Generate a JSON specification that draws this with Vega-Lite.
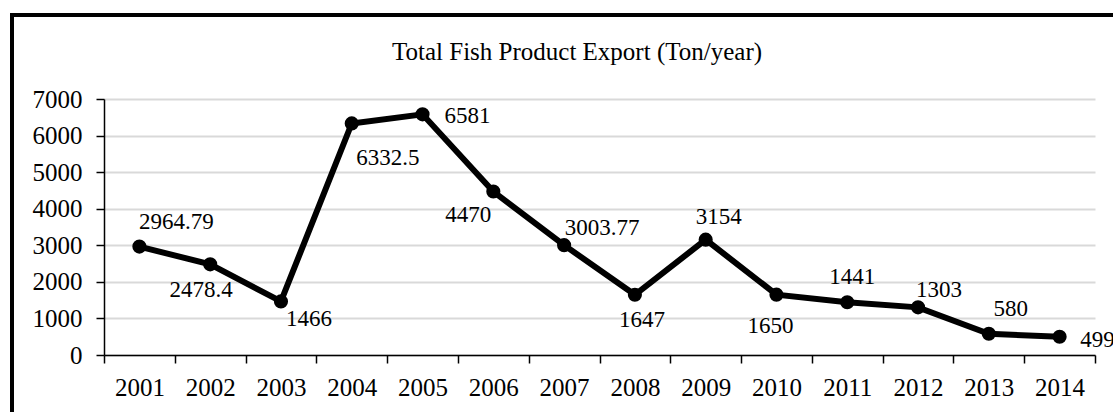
{
  "$schema": "https://vega.github.io/schema/vega-lite/v6.json",
  "autosize": {"type": "none"},
  "padding": {"left": 12, "top": 15, "right": -9, "bottom": -13},
  "width": 1110,
  "height": 410,
  "background": "white",
  "config": {
    "view": {"stroke": "#000000", "strokeWidth": 4},
    "font": "Liberation Serif",
    "text": {"font": "Liberation Serif", "fontSize": 23, "color": "#000000", "baseline": "middle", "align": "center"}
  },
  "title": {
    "text": "Total Fish Product Export (Ton/year)",
    "font": "Liberation Serif",
    "fontSize": 25,
    "fontWeight": "normal",
    "color": "#000000",
    "anchor": "middle",
    "baseline": "alphabetic",
    "offset": -70,
    "dx": 10
  },
  "data": {
    "values": [
      {"year": "2001", "tons": 2964.79},
      {"year": "2002", "tons": 2478.4},
      {"year": "2003", "tons": 1466},
      {"year": "2004", "tons": 6332.5},
      {"year": "2005", "tons": 6581},
      {"year": "2006", "tons": 4470},
      {"year": "2007", "tons": 3003.77},
      {"year": "2008", "tons": 1647},
      {"year": "2009", "tons": 3154},
      {"year": "2010", "tons": 1650},
      {"year": "2011", "tons": 1441},
      {"year": "2012", "tons": 1303},
      {"year": "2013", "tons": 580},
      {"year": "2014", "tons": 499}
    ]
  },
  "encoding": {
    "x": {
      "field": "year",
      "type": "ordinal",
      "bandPosition": 0.5,
      "scale": {"type": "band", "paddingInner": 0, "paddingOuter": 0, "range": [92, 1083]},
      "axis": {
        "title": null,
        "labelAngle": 0,
        "labelFont": "Liberation Serif",
        "labelFontSize": 25,
        "labelColor": "#000000",
        "labelPadding": 12,
        "tickBand": "extent",
        "tickSize": 8,
        "tickColor": "#000000",
        "tickWidth": 1.5,
        "domainColor": "#000000",
        "domainWidth": 1.5,
        "grid": false,
        "offset": -70
      }
    },
    "y": {
      "field": "tons",
      "type": "quantitative",
      "scale": {"domain": [0, 7000], "range": [340, 84], "nice": false},
      "axis": {
        "title": null,
        "format": "d",
        "values": [0, 1000, 2000, 3000, 4000, 5000, 6000, 7000],
        "labelFont": "Liberation Serif",
        "labelFontSize": 25,
        "labelColor": "#000000",
        "labelPadding": 14,
        "tickSize": 8,
        "tickColor": "#000000",
        "tickWidth": 1.5,
        "domainColor": "#000000",
        "domainWidth": 1.5,
        "grid": true,
        "gridColor": "#d9d9d9",
        "gridWidth": 2,
        "offset": -92
      }
    }
  },
  "layer": [
    {"mark": {"type": "line", "color": "#000000", "strokeWidth": 6}},
    {"mark": {"type": "point", "filled": true, "color": "#000000", "opacity": 1, "size": 200}},
    {"transform": [{"filter": "datum.year == '2001'"}], "mark": {"type": "text", "dx": 37, "dy": -25}, "encoding": {"text": {"field": "tons", "type": "nominal"}}},
    {"transform": [{"filter": "datum.year == '2002'"}], "mark": {"type": "text", "dx": -9, "dy": 26}, "encoding": {"text": {"field": "tons", "type": "nominal"}}},
    {"transform": [{"filter": "datum.year == '2003'"}], "mark": {"type": "text", "dx": 28, "dy": 18}, "encoding": {"text": {"field": "tons", "type": "nominal"}}},
    {"transform": [{"filter": "datum.year == '2004'"}], "mark": {"type": "text", "dx": 36, "dy": 35}, "encoding": {"text": {"field": "tons", "type": "nominal"}}},
    {"transform": [{"filter": "datum.year == '2005'"}], "mark": {"type": "text", "dx": 45, "dy": 2}, "encoding": {"text": {"field": "tons", "type": "nominal"}}},
    {"transform": [{"filter": "datum.year == '2006'"}], "mark": {"type": "text", "dx": -25, "dy": 23}, "encoding": {"text": {"field": "tons", "type": "nominal"}}},
    {"transform": [{"filter": "datum.year == '2007'"}], "mark": {"type": "text", "dx": 38, "dy": -17}, "encoding": {"text": {"field": "tons", "type": "nominal"}}},
    {"transform": [{"filter": "datum.year == '2008'"}], "mark": {"type": "text", "dx": 7, "dy": 25}, "encoding": {"text": {"field": "tons", "type": "nominal"}}},
    {"transform": [{"filter": "datum.year == '2009'"}], "mark": {"type": "text", "dx": 13, "dy": -23}, "encoding": {"text": {"field": "tons", "type": "nominal"}}},
    {"transform": [{"filter": "datum.year == '2010'"}], "mark": {"type": "text", "dx": -6, "dy": 31}, "encoding": {"text": {"field": "tons", "type": "nominal"}}},
    {"transform": [{"filter": "datum.year == '2011'"}], "mark": {"type": "text", "dx": 5, "dy": -25}, "encoding": {"text": {"field": "tons", "type": "nominal"}}},
    {"transform": [{"filter": "datum.year == '2012'"}], "mark": {"type": "text", "dx": 21, "dy": -17}, "encoding": {"text": {"field": "tons", "type": "nominal"}}},
    {"transform": [{"filter": "datum.year == '2013'"}], "mark": {"type": "text", "dx": 22, "dy": -25}, "encoding": {"text": {"field": "tons", "type": "nominal"}}},
    {"transform": [{"filter": "datum.year == '2014'"}], "mark": {"type": "text", "dx": 38, "dy": 3}, "encoding": {"text": {"field": "tons", "type": "nominal"}}}
  ]
}
